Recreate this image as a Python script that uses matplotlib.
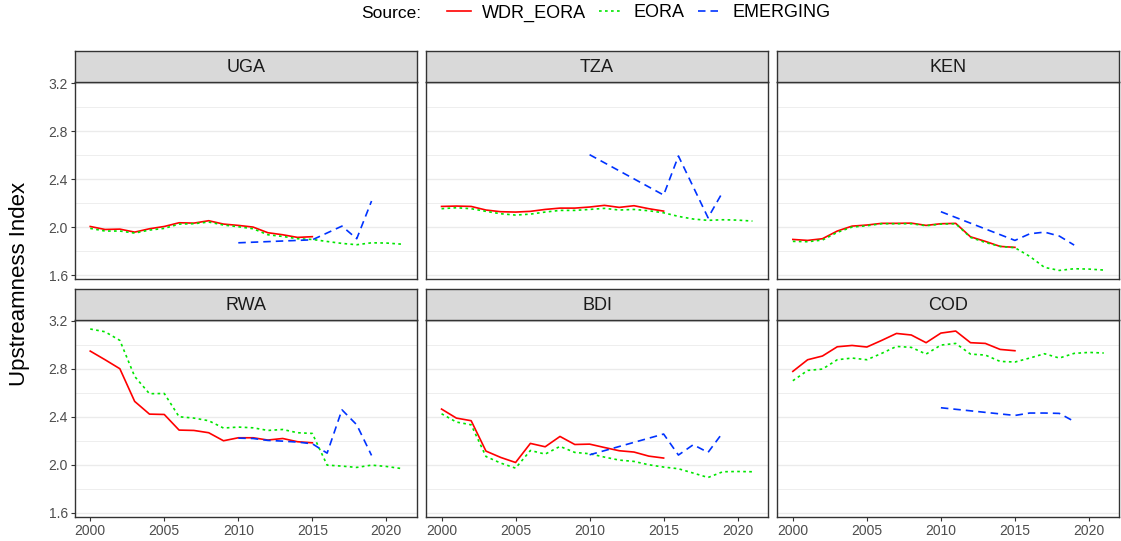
import numpy as np
import matplotlib
matplotlib.use("Agg")
import matplotlib.pyplot as plt
from matplotlib.lines import Line2D

plt.rcParams['font.family'] = ['Liberation Sans', 'DejaVu Sans']

nan = np.nan

# years
YEARS = np.arange(2000, 2022)
WDR_YEARS = np.arange(2000, 2016)
EM_YEARS = np.arange(2010, 2020)

COUNTRIES = ["UGA", "TZA", "KEN", "RWA", "BDI", "COD"]

# WDR_EORA series (2000-2015)
UGA_WDR = [2.005, 1.980, 1.983, 1.958, 1.986, 2.005, 2.036, 2.033, 2.053, 2.025, 2.014, 2.000, 1.953, 1.936, 1.914, 1.920]
TZA_WDR = [2.172, 2.175, 2.172, 2.142, 2.128, 2.125, 2.131, 2.147, 2.158, 2.158, 2.167, 2.181, 2.164, 2.178, 2.153, 2.133]
KEN_WDR = [1.897, 1.889, 1.903, 1.967, 2.008, 2.017, 2.031, 2.031, 2.033, 2.014, 2.028, 2.031, 1.919, 1.881, 1.839, 1.831]
RWA_WDR = [2.947, 2.875, 2.800, 2.528, 2.422, 2.419, 2.289, 2.286, 2.267, 2.200, 2.225, 2.225, 2.206, 2.219, 2.192, 2.183]
BDI_WDR = [2.464, 2.389, 2.367, 2.114, 2.061, 2.019, 2.178, 2.150, 2.236, 2.169, 2.172, 2.144, 2.117, 2.106, 2.072, 2.056]
COD_WDR = [2.778, 2.875, 2.906, 2.983, 2.994, 2.981, 3.036, 3.094, 3.081, 3.017, 3.097, 3.114, 3.017, 3.011, 2.961, 2.950]

# EORA series (2000-2021)
UGA_EORA = [1.989, 1.967, 1.967, 1.950, 1.975, 1.989, 2.025, 2.028, 2.042, 2.017, 2.003, 1.986, 1.936, 1.922, 1.903, 1.897, 1.880, 1.864, 1.853, 1.869, 1.867, 1.858]
TZA_EORA = [2.153, 2.161, 2.153, 2.131, 2.111, 2.100, 2.108, 2.125, 2.139, 2.139, 2.147, 2.156, 2.142, 2.147, 2.136, 2.119, 2.089, 2.067, 2.056, 2.061, 2.058, 2.050]
KEN_EORA = [1.881, 1.878, 1.892, 1.956, 2.000, 2.011, 2.028, 2.028, 2.028, 2.011, 2.025, 2.028, 1.914, 1.872, 1.839, 1.828, 1.756, 1.664, 1.639, 1.653, 1.650, 1.642]
RWA_EORA = [3.131, 3.108, 3.036, 2.736, 2.592, 2.594, 2.400, 2.389, 2.367, 2.306, 2.314, 2.308, 2.286, 2.294, 2.267, 2.261, 1.997, 1.989, 1.978, 1.997, 1.986, 1.969]
BDI_EORA = [2.425, 2.356, 2.333, 2.069, 2.014, 1.972, 2.119, 2.089, 2.153, 2.103, 2.092, 2.064, 2.039, 2.028, 2.000, 1.981, 1.967, 1.931, 1.894, 1.942, 1.944, 1.942]
COD_EORA = [2.700, 2.786, 2.797, 2.875, 2.889, 2.875, 2.928, 2.986, 2.978, 2.922, 2.997, 3.011, 2.922, 2.914, 2.861, 2.856, 2.889, 2.925, 2.889, 2.928, 2.936, 2.931]

# EMERGING series (2010-2019), nan where no observation
UGA_EM = [1.869, nan, nan, nan, nan, 1.894, nan, 2.008, 1.903, 2.217]
TZA_EM = [2.603, nan, nan, nan, nan, 2.267, 2.592, nan, 2.078, 2.294]
KEN_EM = [2.128, nan, nan, nan, nan, 1.889, 1.944, 1.958, 1.925, 1.850]
RWA_EM = [2.222, 2.219, 2.203, 2.197, 2.189, 2.175, 2.097, 2.458, 2.333, 2.078]
BDI_EM = [2.083, nan, nan, nan, nan, 2.256, 2.081, 2.167, 2.103, 2.269]
COD_EM = [2.475, nan, nan, nan, nan, 2.411, 2.431, 2.431, 2.428, 2.361]

WDR = [UGA_WDR, TZA_WDR, KEN_WDR, RWA_WDR, BDI_WDR, COD_WDR]
EORA = [UGA_EORA, TZA_EORA, KEN_EORA, RWA_EORA, BDI_EORA, COD_EORA]
EM = [UGA_EM, TZA_EM, KEN_EM, RWA_EM, BDI_EM, COD_EM]

SOURCES = ["WDR_EORA", "EORA", "EMERGING"]
COLORS = ["#FF0000", "#00E600", "#0033FF"]
STYLES = ["-", (0, (1.6, 2.0)), (0, (4.5, 3.0))]
LW = 1.2

W, H = 1121, 541
fig = plt.figure(figsize=(W / 100, H / 100), dpi=100)

col_left = [74.7, 426.0, 777.3]
col_w = 342.0
row_top = [82.3, 320.0]   # top of panel (px)
panel_h = 197.0
strip_h = 31.5


def px_rect(x, y_top, w, h):
    return [x / W, 1 - (y_top + h) / H, w / W, h / H]


for i, name in enumerate(COUNTRIES):
    r, c = divmod(i, 3)
    ax = fig.add_axes(px_rect(col_left[c], row_top[r], col_w, panel_h))
    sax = fig.add_axes(px_rect(col_left[c], row_top[r] - strip_h, col_w, strip_h))

    # strip
    sax.set_facecolor("#D9D9D9")
    sax.set_xticks([])
    sax.set_yticks([])
    for sp in sax.spines.values():
        sp.set_color("#333333")
        sp.set_linewidth(1.0)
    sax.text(0.5, 0.47, name, ha="center", va="center", fontsize=13,
             color="#1A1A1A", transform=sax.transAxes)

    series = [
        (WDR_YEARS, np.array(WDR[i])),
        (YEARS, np.array(EORA[i])),
        (EM_YEARS, np.array(EM[i])),
    ]
    for (x, y), col, ls in zip(series, COLORS, STYLES):
        m = ~np.isnan(y)
        ax.plot(x[m], y[m], color=col, linestyle=ls, lw=LW, zorder=3)

    ax.set_xlim(1998.95, 2022.05)
    ax.set_ylim(1.565, 3.206)
    ax.set_yticks([1.6, 2.0, 2.4, 2.8, 3.2])
    ax.set_yticks([1.8, 2.2, 2.6, 3.0], minor=True)
    ax.set_xticks([2000, 2005, 2010, 2015, 2020])
    ax.xaxis.set_minor_locator(plt.NullLocator())
    ax.grid(True, axis="y", which="major", color="#EBEBEB", lw=1.0, zorder=0)
    ax.grid(True, axis="y", which="minor", color="#EBEBEB", lw=0.6, zorder=0)
    ax.set_axisbelow(True)
    for sp in ax.spines.values():
        sp.set_color("#333333")
        sp.set_linewidth(1.0)
    ax.tick_params(axis="both", which="major", length=3, width=0.8,
                   color="#333333", labelsize=10, labelcolor="#4D4D4D", pad=2)
    ax.tick_params(axis="y", which="minor", length=0)
    ax.set_yticklabels(["1.6", "2.0", "2.4", "2.8", "3.2"])
    if r == 0:
        ax.tick_params(axis="x", which="both", bottom=False, labelbottom=False)
    if c != 0:
        ax.tick_params(axis="y", which="both", left=False, labelleft=False)

fig.text(20 / W, 0.475, "Upstreamness Index", rotation=90, ha="center",
         va="center", fontsize=16, color="black")

# legend
handles = [Line2D([0], [0], color=col, linestyle=ls, lw=LW)
           for col, ls in zip(COLORS, STYLES)]
fig.text(361 / W, 1 - 13 / H, "Source:", ha="left", va="center", fontsize=12.5)
fig.legend(handles, SOURCES, ncol=3, loc="center",
           bbox_to_anchor=(639 / W, 1 - 13 / H), frameon=False,
           fontsize=13, handlelength=1.3, handletextpad=0.6,
           columnspacing=0.75, borderaxespad=0, borderpad=0)

fig.savefig("out.png", dpi=100)
